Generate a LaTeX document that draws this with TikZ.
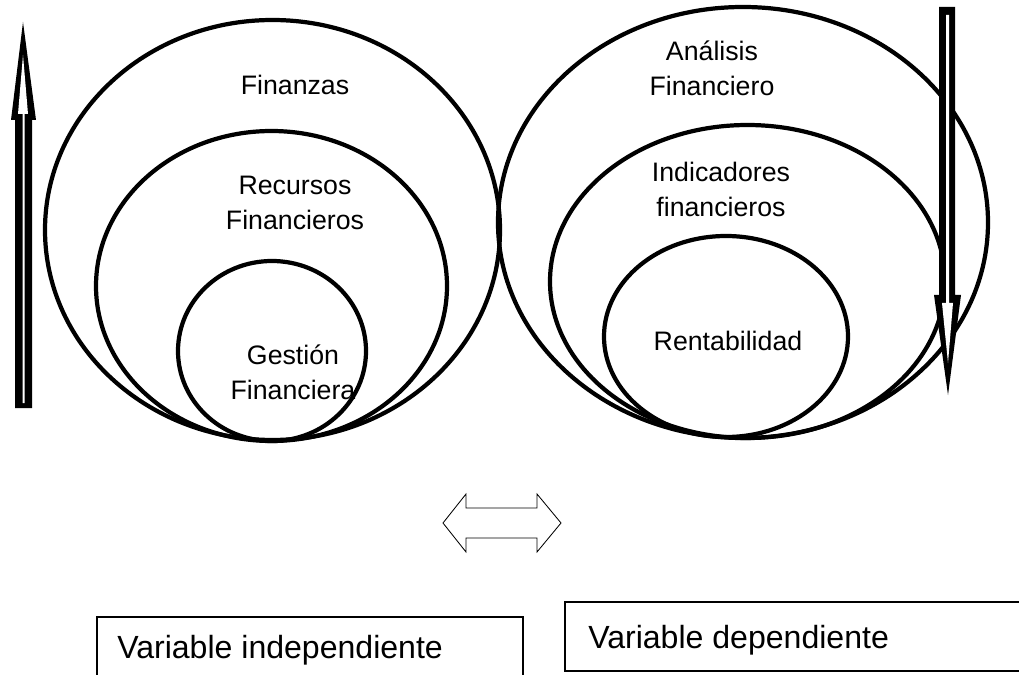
\documentclass[tikz,border=0pt]{standalone}
\usepackage{fontspec}
\setmainfont{Liberation Sans}

\begin{document}
\begin{tikzpicture}[x=0.025cm, y=-0.025cm,
    ring/.style={line width=3pt},
    lbl/.style={align=center, inner sep=0pt, font=\fontsize{19}{24.9}\selectfont},
    vartext/.style={anchor=base west, inner sep=0pt, font=\fontsize{22.8}{26}\selectfont}]

\draw[draw=none, use as bounding box] (0, 0) rectangle (1019, 675);

% left group
\draw [ring] (272.5, 230) ellipse (227.5 and 210);
\draw [ring] (271.5, 286) ellipse (175.5 and 155);
\draw [ring] (272, 351) ellipse (94 and 90);
\node [lbl] (finanzas) at (295, 85) {Finanzas};
\node [lbl] (recursos) at (295, 203) {Recursos\\Financieros};
\node [lbl] (gestion) at (293, 372) {Gestión\\Financiera};

% right group
\draw [ring] (743, 222.5) ellipse (245 and 215.5);
\draw [ring] (747.5, 281.5) ellipse (197.5 and 156.5);
\draw [ring] (726, 336.5) ellipse (122 and 100.5);
\node [lbl] (analisis) at (712, 68) {Análisis\\Financiero};
\node [lbl] (indicadores) at (721, 189) {Indicadores\\financieros};
\node [lbl] (rentab) at (728, 341) {Rentabilidad};

% up arrow
\fill (23, 22) -- (36, 120) -- (32, 120) -- (32, 408) -- (15, 408) -- (15, 120) -- (11, 120) -- cycle;
\fill [white] (23, 55) -- (28, 114) -- (24.5, 114) -- (24.5, 403) -- (22.5, 403) -- (22.5, 114) -- (18, 114) -- cycle;

% down arrow
\fill (939, 7) -- (955, 7) -- (955, 295) -- (961, 295) -- (948, 395) -- (934, 295) -- (939, 295) -- cycle;
\fill [white] (946, 15) -- (949, 15) -- (949, 303) -- (953, 303) -- (948, 363) -- (942, 303) -- (946, 303) -- cycle;

% double arrow
\draw [semithick, line join=miter] (443, 523) -- (466, 494) -- (466, 508) -- (537, 508) -- (537, 494)
    -- (561, 523) -- (537, 552) -- (537, 538) -- (466, 538) -- (466, 552) -- cycle;

% boxes
\draw [thick] (97, 690) -- (97, 617) -- (523, 617) -- (523, 690);
\node [vartext] (indep) at (117, 658) {Variable independiente};
\draw [thick] (1030, 602) -- (565, 602) -- (565, 671) -- (1030, 671);
\node [vartext] (dep) at (588, 648) {Variable dependiente};
\end{tikzpicture}
\end{document}
